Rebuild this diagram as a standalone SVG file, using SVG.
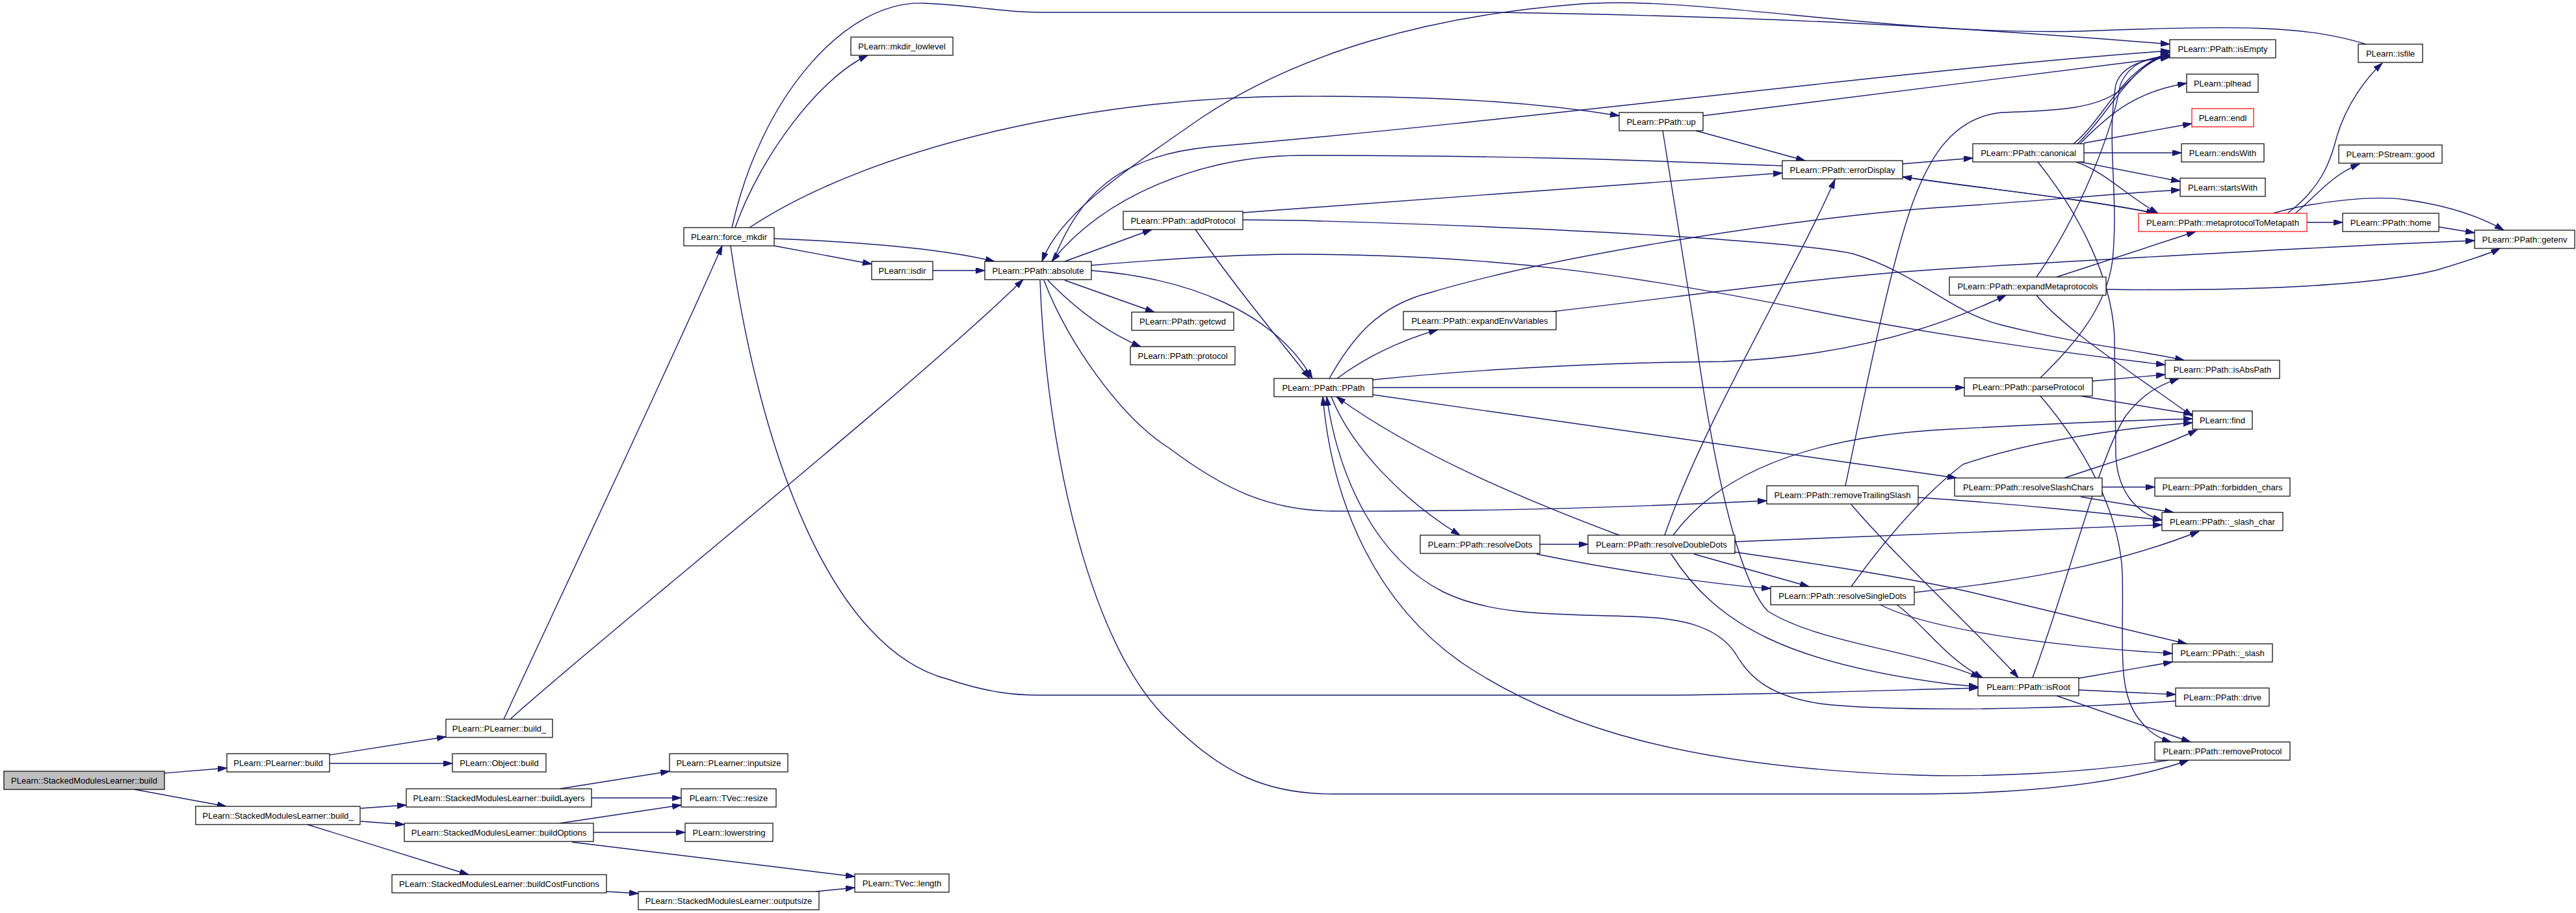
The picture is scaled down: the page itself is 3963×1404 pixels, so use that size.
<svg xmlns="http://www.w3.org/2000/svg" width="3963" height="1404" viewBox="0 0 3963 1404">
<style>
.node rect{fill:#fff;stroke:#000;stroke-width:1.2}
.node.root rect{fill:#bfbfbf}
.node.red rect{stroke:#ff0000}
.node text{font-family:"Liberation Sans",Arial,sans-serif;font-size:13px;text-anchor:middle;fill:#000}
.edges path{fill:none;stroke:#191970;stroke-width:1.4;marker-end:url(#ah)}
</style>
<defs>
<marker id="ah" markerUnits="userSpaceOnUse" markerWidth="15" markerHeight="10" refX="14" refY="4.5" orient="auto">
<path d="M0,0 L14,4.5 L0,9 z" fill="#191970" stroke="#191970" stroke-width="1"/>
</marker>
</defs>
<rect width="3963" height="1404" fill="#fff"/>
<g class="edges">
<path d="M253,1189 L349,1181"/>
<path d="M207,1214 L348,1240"/>
<path d="M507,1161 L686,1133"/>
<path d="M507,1174 L696,1174"/>
<path d="M555,1243 L625,1238"/>
<path d="M555,1263 L622,1268"/>
<path d="M473,1268 L721,1345"/>
<path d="M861,1213 L1030,1186"/>
<path d="M910,1227 L1048,1227"/>
<path d="M861,1266 L1048,1238"/>
<path d="M913,1280 L1054,1280"/>
<path d="M880,1295 L1315,1348"/>
<path d="M933,1371 L982,1374"/>
<path d="M1255,1371 L1315,1365"/>
<path d="M775,1106 C880,880 1040,540 1111,378"/>
<path d="M785,1106 C900,1000 1400,600 1574,430"/>
<path d="M1131,350 C1170,240 1260,120 1335,85"/>
<path d="M1126,350 C1170,150 1300,0 1421,5 C1500,8 1540,19 1600,19 L2300,19 C2700,25 3000,40 3338,68"/>
<path d="M1153,350 C1350,220 1700,148 2000,148 C2250,148 2380,160 2491,178"/>
<path d="M1191,367 C1350,373 1460,385 1530,402"/>
<path d="M1191,378 L1341,406"/>
<path d="M1124,378 C1170,700 1280,1000 1460,1045 C1520,1065 1560,1069 1600,1069 L2580,1069 C2800,1066 2950,1060 3043,1058"/>
<path d="M1435,416 L1515,416"/>
<path d="M1638,402 L1772,353"/>
<path d="M1638,431 L1776,480"/>
<path d="M1612,431 C1650,470 1700,510 1755,533"/>
<path d="M1679,416 C1830,428 1960,480 2019,582"/>
<path d="M1620,402 C1660,300 1720,240 1860,226 C2400,180 2900,110 3338,78"/>
<path d="M3640,68 C3550,40 3450,38 3200,48 C2900,55 2600,-10 2421,7 C2200,25 2000,80 1850,180 C1720,270 1630,330 1603,402"/>
<path d="M2742,255 C2500,245 2300,239 2000,239 C1850,240 1700,300 1618,402"/>
<path d="M1912,327 L2742,266"/>
<path d="M1912,338 L2000,339 C2400,350 2750,370 2850,390 C2950,420 3000,480 3080,500 C3200,530 3300,540 3360,554"/>
<path d="M1839,353 C1900,440 1950,500 2015,582"/>
<path d="M1679,408 C1800,398 1900,391 2000,391 C2300,392 2500,420 2800,480 C2950,510 3150,540 3331,561"/>
<path d="M1600,431 C1610,700 1680,1000 1800,1110 C1880,1190 1950,1221 2050,1221 L2950,1221 C3150,1220 3280,1200 3367,1169"/>
<path d="M1606,431 C1640,520 1720,640 1800,690 C1880,750 1950,785 2050,786 C2300,787 2550,778 2718,770"/>
<path d="M2057,582 C2100,550 2150,525 2212,507"/>
<path d="M2045,582 C2080,520 2120,470 2200,450 C2400,390 2800,330 3000,318 C3150,308 3250,298 3354,292"/>
<path d="M2112,584 C2300,565 2500,557 2650,556 C2800,550 2950,520 3086,454"/>
<path d="M2112,596 L3022,596"/>
<path d="M2112,607 L3010,735"/>
<path d="M2048,610 C2080,690 2160,770 2246,823"/>
<path d="M2491,823 C2350,770 2180,700 2056,610"/>
<path d="M3347,1078 C3100,1095 2880,1092 2800,1082 C2720,1070 2690,1040 2670,1005 C2640,960 2580,950 2510,948 C2420,944 2300,950 2220,910 C2120,860 2060,740 2041,610"/>
<path d="M3336,1169 C3200,1190 3050,1195 2950,1192 C2600,1180 2400,1120 2250,1020 C2120,930 2050,780 2035,610"/>
<path d="M2369,837 L2443,837"/>
<path d="M2364,852 C2500,880 2650,900 2724,905"/>
<path d="M2606,852 L2783,902"/>
<path d="M2561,823 C2620,650 2760,420 2823,276"/>
<path d="M2574,823 C2650,720 2800,670 3000,660 C3150,652 3280,646 3373,644"/>
<path d="M2669,833 L3326,807"/>
<path d="M2669,849 C2800,868 2950,890 3050,915 C3200,950 3300,975 3364,990"/>
<path d="M2571,852 C2640,960 2750,1020 3000,1052 L3043,1056"/>
<path d="M2558,201 L2606,500 C2640,750 2680,900 2720,940 C2800,990 2950,1000 3046,1042"/>
<path d="M2609,201 L2777,247"/>
<path d="M2620,178 L3338,88"/>
<path d="M2927,252 L3035,243"/>
<path d="M2927,272 C3050,290 3200,305 3316,328"/>
<path d="M3316,328 C3200,305 3050,290 2927,272"/>
<path d="M3190,221 C3240,180 3260,110 3338,80"/>
<path d="M3196,221 C3250,170 3275,100 3338,84"/>
<path d="M3200,221 C3250,170 3290,140 3364,128"/>
<path d="M3206,220 L3372,190"/>
<path d="M3206,235 L3356,235"/>
<path d="M3200,249 L3354,279"/>
<path d="M3194,249 C3240,265 3270,300 3320,328"/>
<path d="M3135,249 C3200,330 3250,430 3253,520 L3255,700 C3258,760 3290,790 3326,800"/>
<path d="M3549,342 L3604,342"/>
<path d="M3497,328 C3560,310 3650,300 3700,307 C3760,315 3810,330 3852,354"/>
<path d="M3519,328 C3570,290 3585,250 3595,210 C3610,160 3640,120 3665,97"/>
<path d="M3531,328 C3560,305 3585,270 3630,252"/>
<path d="M3752,349 L3807,358"/>
<path d="M3164,426 L3378,356"/>
<path d="M3240,445 C3450,448 3650,440 3750,415 C3800,400 3830,390 3846,382"/>
<path d="M3133,426 C3200,330 3250,200 3262,130 C3275,100 3300,88 3338,86"/>
<path d="M3133,454 C3170,500 3260,560 3373,640"/>
<path d="M2389,479 C2600,455 2800,425 3000,413 C3300,395 3600,378 3807,370"/>
<path d="M3219,586 L3331,576"/>
<path d="M3201,609 L3373,637"/>
<path d="M3139,581 C3180,540 3240,480 3250,400 C3260,300 3240,220 3255,130 C3265,100 3300,90 3338,88"/>
<path d="M3139,609 C3200,680 3260,780 3265,880 C3268,980 3255,1060 3290,1105 C3305,1125 3320,1135 3340,1141"/>
<path d="M3176,735 C3250,710 3320,690 3380,661"/>
<path d="M3234,749 L3315,749"/>
<path d="M3201,764 L3344,788"/>
<path d="M2839,747 C2870,600 2900,450 2930,350 C2960,250 3000,180 3080,173 C3150,170 3220,170 3260,140 C3290,110 3310,90 3338,80"/>
<path d="M2951,765 C3100,775 3250,790 3326,800"/>
<path d="M2848,776 C2920,860 3050,980 3105,1042"/>
<path d="M2945,911 C3100,895 3250,870 3383,817"/>
<path d="M2848,902 C2900,830 2960,760 3020,714 C3120,680 3250,660 3373,650"/>
<path d="M2893,930 C2950,960 3100,990 3342,1005"/>
<path d="M2918,930 C2960,960 2990,1010 3050,1042"/>
<path d="M3198,1043 L3342,1018"/>
<path d="M3198,1061 L3347,1068"/>
<path d="M3164,1070 L3370,1141"/>
<path d="M3127,1042 C3180,900 3230,700 3270,640 C3300,600 3330,590 3352,582"/>
</g>
<g id="n_sml_build" class="node root"><rect x="6" y="1186" width="247" height="28"/><text x="129.5" y="1205">PLearn::StackedModulesLearner::build</text></g>
<g id="n_plearner_build" class="node"><rect x="349" y="1159" width="158" height="28"/><text x="428" y="1178">PLearn::PLearner::build</text></g>
<g id="n_plearner_build_" class="node"><rect x="686" y="1106" width="164" height="28"/><text x="768" y="1125">PLearn::PLearner::build_</text></g>
<g id="n_object_build" class="node"><rect x="696" y="1159" width="144" height="28"/><text x="768" y="1178">PLearn::Object::build</text></g>
<g id="n_sml_build_" class="node"><rect x="301" y="1240" width="253" height="28"/><text x="427.5" y="1259">PLearn::StackedModulesLearner::build_</text></g>
<g id="n_buildlayers" class="node"><rect x="625" y="1213" width="285" height="28"/><text x="767.5" y="1232">PLearn::StackedModulesLearner::buildLayers</text></g>
<g id="n_buildoptions" class="node"><rect x="622" y="1266" width="291" height="28"/><text x="767.5" y="1285">PLearn::StackedModulesLearner::buildOptions</text></g>
<g id="n_buildcost" class="node"><rect x="603" y="1345" width="330" height="28"/><text x="768" y="1364">PLearn::StackedModulesLearner::buildCostFunctions</text></g>
<g id="n_outputsize" class="node"><rect x="982" y="1371" width="278" height="28"/><text x="1121" y="1390">PLearn::StackedModulesLearner::outputsize</text></g>
<g id="n_inputsize" class="node"><rect x="1030" y="1159" width="182" height="28"/><text x="1121" y="1178">PLearn::PLearner::inputsize</text></g>
<g id="n_resize" class="node"><rect x="1048" y="1213" width="146" height="28"/><text x="1121" y="1232">PLearn::TVec::resize</text></g>
<g id="n_lowerstring" class="node"><rect x="1054" y="1266" width="135" height="28"/><text x="1121.5" y="1285">PLearn::lowerstring</text></g>
<g id="n_length" class="node"><rect x="1315" y="1344" width="145" height="28"/><text x="1387.5" y="1363">PLearn::TVec::length</text></g>
<g id="n_force_mkdir" class="node"><rect x="1052" y="350" width="139" height="28"/><text x="1121.5" y="369">PLearn::force_mkdir</text></g>
<g id="n_mkdir_lowlevel" class="node"><rect x="1309" y="57" width="157" height="28"/><text x="1387.5" y="76">PLearn::mkdir_lowlevel</text></g>
<g id="n_isdir" class="node"><rect x="1341" y="402" width="94" height="28"/><text x="1388" y="421">PLearn::isdir</text></g>
<g id="n_absolute" class="node"><rect x="1515" y="402" width="164" height="28"/><text x="1597" y="421">PLearn::PPath::absolute</text></g>
<g id="n_addprotocol" class="node"><rect x="1728" y="325" width="184" height="28"/><text x="1820" y="344">PLearn::PPath::addProtocol</text></g>
<g id="n_getcwd" class="node"><rect x="1741" y="480" width="157" height="28"/><text x="1819.5" y="499">PLearn::PPath::getcwd</text></g>
<g id="n_protocol" class="node"><rect x="1739" y="533" width="161" height="28"/><text x="1819.5" y="552">PLearn::PPath::protocol</text></g>
<g id="n_ppath" class="node"><rect x="1960" y="582" width="152" height="28"/><text x="2036" y="601">PLearn::PPath::PPath</text></g>
<g id="n_expandenv" class="node"><rect x="2159" y="479" width="235" height="28"/><text x="2276.5" y="498">PLearn::PPath::expandEnvVariables</text></g>
<g id="n_up" class="node"><rect x="2491" y="173" width="129" height="28"/><text x="2555.5" y="192">PLearn::PPath::up</text></g>
<g id="n_errordisplay" class="node"><rect x="2742" y="247" width="185" height="28"/><text x="2834.5" y="266">PLearn::PPath::errorDisplay</text></g>
<g id="n_removetrailing" class="node"><rect x="2718" y="747" width="233" height="28"/><text x="2834.5" y="766">PLearn::PPath::removeTrailingSlash</text></g>
<g id="n_resolvedots" class="node"><rect x="2185" y="823" width="184" height="28"/><text x="2277" y="842">PLearn::PPath::resolveDots</text></g>
<g id="n_resolvedouble" class="node"><rect x="2443" y="823" width="226" height="28"/><text x="2556" y="842">PLearn::PPath::resolveDoubleDots</text></g>
<g id="n_resolvesingle" class="node"><rect x="2724" y="902" width="221" height="28"/><text x="2834.5" y="921">PLearn::PPath::resolveSingleDots</text></g>
<g id="n_canonical" class="node"><rect x="3035" y="221" width="171" height="28"/><text x="3120.5" y="240">PLearn::PPath::canonical</text></g>
<g id="n_isempty" class="node"><rect x="3338" y="61" width="163" height="28"/><text x="3419.5" y="80">PLearn::PPath::isEmpty</text></g>
<g id="n_plhead" class="node"><rect x="3364" y="114" width="110" height="28"/><text x="3419" y="133">PLearn::plhead</text></g>
<g id="n_endl" class="node red"><rect x="3372" y="167" width="95" height="28"/><text x="3419.5" y="186">PLearn::endl</text></g>
<g id="n_endswith" class="node"><rect x="3356" y="221" width="127" height="28"/><text x="3419.5" y="240">PLearn::endsWith</text></g>
<g id="n_startswith" class="node"><rect x="3354" y="274" width="131" height="28"/><text x="3419.5" y="293">PLearn::startsWith</text></g>
<g id="n_metaproto" class="node red"><rect x="3290" y="328" width="259" height="28"/><text x="3419.5" y="347">PLearn::PPath::metaprotocolToMetapath</text></g>
<g id="n_home" class="node"><rect x="3604" y="328" width="148" height="28"/><text x="3678" y="347">PLearn::PPath::home</text></g>
<g id="n_getenv" class="node"><rect x="3807" y="354" width="154" height="28"/><text x="3884" y="373">PLearn::PPath::getenv</text></g>
<g id="n_isfile" class="node"><rect x="3628" y="68" width="99" height="28"/><text x="3677.5" y="87">PLearn::isfile</text></g>
<g id="n_pstream_good" class="node"><rect x="3598" y="223" width="159" height="28"/><text x="3677.5" y="242">PLearn::PStream::good</text></g>
<g id="n_expandmeta" class="node"><rect x="2999" y="426" width="241" height="28"/><text x="3119.5" y="445">PLearn::PPath::expandMetaprotocols</text></g>
<g id="n_isabspath" class="node"><rect x="3331" y="554" width="176" height="28"/><text x="3419" y="573">PLearn::PPath::isAbsPath</text></g>
<g id="n_parseprotocol" class="node"><rect x="3022" y="581" width="197" height="28"/><text x="3120.5" y="600">PLearn::PPath::parseProtocol</text></g>
<g id="n_find" class="node"><rect x="3373" y="632" width="92" height="28"/><text x="3419" y="651">PLearn::find</text></g>
<g id="n_resolveslash" class="node"><rect x="3007" y="735" width="227" height="28"/><text x="3120.5" y="754">PLearn::PPath::resolveSlashChars</text></g>
<g id="n_forbidden" class="node"><rect x="3315" y="735" width="208" height="28"/><text x="3419" y="754">PLearn::PPath::forbidden_chars</text></g>
<g id="n_slash_char" class="node"><rect x="3326" y="788" width="186" height="28"/><text x="3419" y="807">PLearn::PPath::_slash_char</text></g>
<g id="n_slash" class="node"><rect x="3342" y="990" width="154" height="28"/><text x="3419" y="1009">PLearn::PPath::_slash</text></g>
<g id="n_isroot" class="node"><rect x="3043" y="1042" width="155" height="28"/><text x="3120.5" y="1061">PLearn::PPath::isRoot</text></g>
<g id="n_drive" class="node"><rect x="3347" y="1058" width="144" height="28"/><text x="3419" y="1077">PLearn::PPath::drive</text></g>
<g id="n_removeprotocol" class="node"><rect x="3315" y="1141" width="208" height="28"/><text x="3419" y="1160">PLearn::PPath::removeProtocol</text></g>
</svg>
